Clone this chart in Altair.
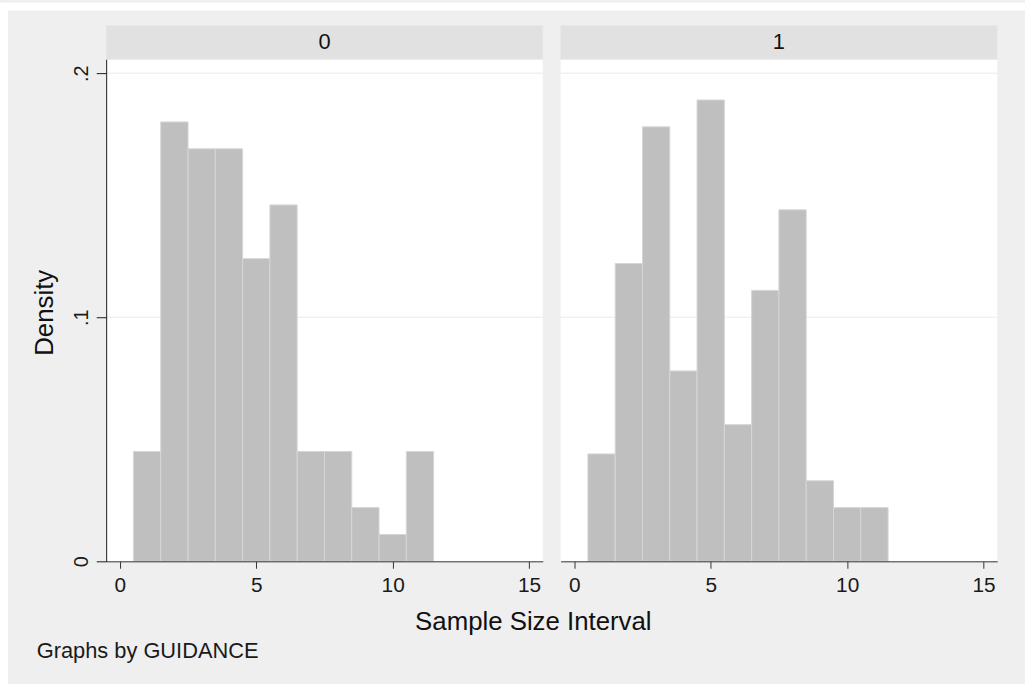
import altair as alt
import pandas as pd

# ---- data ----
panels = ["0", "1"]
bin_left = [0.5, 1.5, 2.5, 3.5, 4.5, 5.5, 6.5, 7.5, 8.5, 9.5, 10.5]
bin_right = [1.5, 2.5, 3.5, 4.5, 5.5, 6.5, 7.5, 8.5, 9.5, 10.5, 11.5]
density_0 = [0.045, 0.180, 0.169, 0.169, 0.124, 0.146, 0.045, 0.045, 0.022, 0.011, 0.045]
density_1 = [0.044, 0.122, 0.178, 0.078, 0.189, 0.056, 0.111, 0.144, 0.033, 0.022, 0.022]
y_ticks = [0, 0.1, 0.2]
x_ticks = [0, 5, 10, 15]
grid_values = [0.1, 0.2]

FONT = "Liberation Sans"
W, H = 440, 506
STRIP = 34
BG = "#efefef"

xscale = alt.Scale(domain=[-0.5, 15.5], nice=False, zero=False)
yscale = alt.Scale(domain=[0, 0.2057], nice=False, zero=False)


def y_axis(first):
    if not first:
        return None
    return alt.Axis(
        values=y_ticks,
        labelExpr="datum.value == 0 ? '0' : replace(format(datum.value, '.1f'), '0.', '.')",
        labelAngle=270, labelFontSize=20, labelFont=FONT, labelColor="#1a1a1a",
        labelPadding=5, tickSize=10, tickColor="#1a1a1a", domainColor="#1a1a1a",
        grid=False, title="Density", titleFont=FONT, titleFontSize=26,
        titleFontWeight="normal", titleColor="#111111", titleAngle=270,
        titleX=-54, titleY=H / 2 + 2, titleAlign="center", titleBaseline="alphabetic",
        zindex=1,
    )


def x_axis(first):
    return alt.Axis(
        values=x_ticks, labelFontSize=21, labelFont=FONT, labelColor="#1a1a1a",
        labelPadding=6, tickSize=7, tickColor="#333333", domainColor="#333333",
        labelAngle=0, grid=False,
        title="Sample Size Interval" if first else None,
        titleFont=FONT, titleFontSize=26, titleFontWeight="normal", titleColor="#111111",
        titleX=430, titleY=69, titleAlign="center", titleBaseline="alphabetic",
        zindex=1,
    )


def panel(label, dens, first):
    one = pd.DataFrame({"label": [label]})
    bars_df = pd.DataFrame({"left": bin_left, "right": bin_right, "density": dens})
    grid_df = pd.DataFrame({"density": grid_values})
    layers = []
    if first:
        # white border along the top and left edges of the page
        layers.append(alt.Chart(one).mark_rect(color="white").encode(
            x=alt.value(-107), x2=alt.value(926), y=alt.value(-57), y2=alt.value(-49)))
        layers.append(alt.Chart(one).mark_rect(color="white").encode(
            x=alt.value(-107), x2=alt.value(-99), y=alt.value(-57), y2=alt.value(635)))
        layers.append(alt.Chart(pd.DataFrame({"note": ["Graphs by GUIDANCE"]})).mark_text(
            align="left", baseline="alphabetic", font=FONT, fontSize=22, color="#1a1a1a"
        ).encode(text="note:N", x=alt.value(-70), y=alt.value(603)))
    layers.append(alt.Chart(one).mark_rect(fill="#e1e1e1", stroke="#e8e8e8", strokeWidth=1).encode(
        x=alt.value(0), x2=alt.value(W), y=alt.value(-STRIP), y2=alt.value(0)))
    layers.append(alt.Chart(one).mark_text(
        align="center", baseline="middle", font=FONT, fontSize=22, color="#111111"
    ).encode(text="label:N", x=alt.value(W / 2), y=alt.value(-STRIP / 2)))
    layers.append(alt.Chart(grid_df).mark_rule(color="#eaeaea", strokeWidth=1).encode(
        y=alt.Y("density:Q", scale=yscale, axis=y_axis(first))))
    layers.append(alt.Chart(bars_df).mark_rect(fill="#bfbfbf", stroke="#d6d6d6", strokeWidth=1).encode(
        x=alt.X("left:Q", scale=xscale, axis=x_axis(first)),
        x2="right:Q",
        y=alt.Y("density:Q", scale=yscale, axis=y_axis(first)),
        y2=alt.datum(0),
    ))
    return alt.layer(*layers).properties(width=W, height=H)


chart = alt.hconcat(
    panel(panels[0], density_0, True),
    panel(panels[1], density_1, False),
    spacing=18, bounds="flush",
).properties(
    padding={"left": 0, "top": 0, "right": 0, "bottom": 0},
).configure(
    background=BG, font=FONT,
).configure_view(stroke=None, fill="white")

chart.save("out.html", embed_options={"renderer": "svg", "actions": False})
